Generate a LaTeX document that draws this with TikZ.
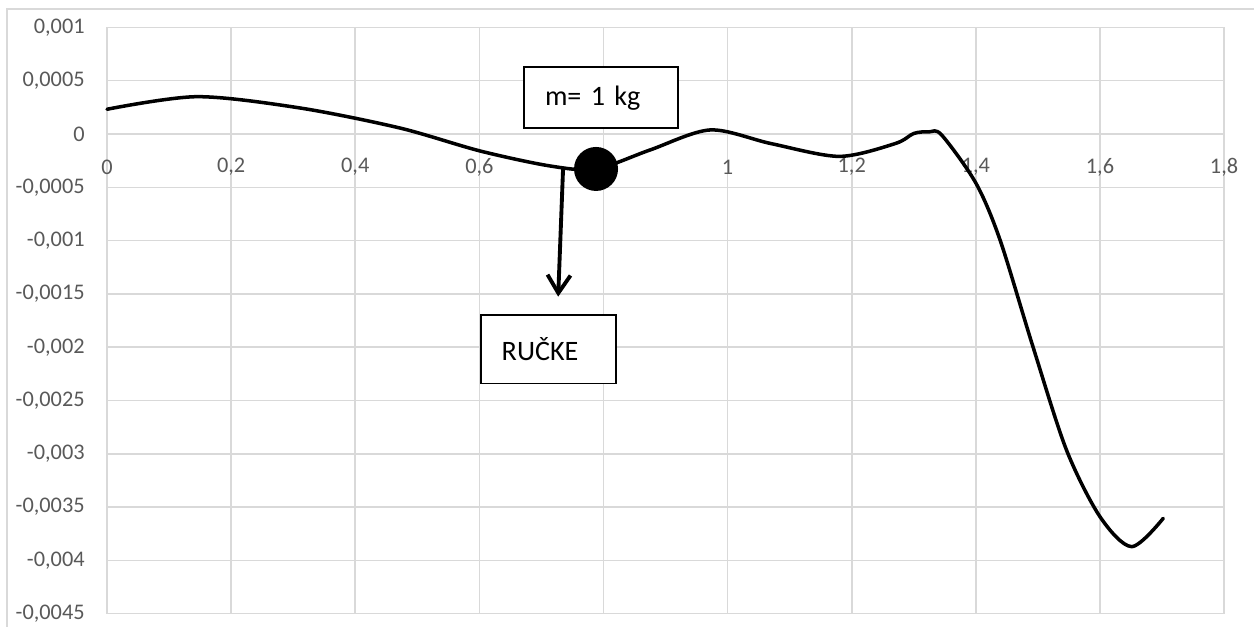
\documentclass[tikz,border=0pt]{standalone}
\usepackage{fontspec}
\setmainfont{Carlito}
\usepackage{tikz}
\usetikzlibrary{arrows.meta,positioning}
\definecolor{gridgray}{HTML}{D9D9D9}
\definecolor{labelgray}{HTML}{595959}

\begin{document}
\begin{tikzpicture}[x=12.412cm, y=2.132cm,
    gridline/.style={gridgray, line width=0.9pt},
    ticklabel/.style={labelgray, font=\fontsize{12.7}{15}\selectfont, inner sep=0pt},
    notebox/.style={draw, fill=white, line width=0.9pt, font=\fontsize{16}{19}\selectfont, inner xsep=0.42cm, align=left},
    force/.style={line width=2.2pt, -{Straight Barb[length=0.36cm, width=0.46cm]}}]
    \useasboundingbox (-2.14cm,-9.86cm) rectangle (22.94cm,2.68cm);
    % chart frame
    \draw[gridline] (23.5cm,2.5cm) -- (-2.0cm,2.5cm) -- (-2.0cm,-10cm);
    % vertical grid lines and x labels (0,8 sits under the mass)
    \foreach \i/\lab in {0/0, 1/{0,2}, 2/{0,4}, 3/{0,6}, 4/{0,8}, 5/1, 6/{1,2}, 7/{1,4}, 8/{1,6}, 9/{1,8}}
    {
        \draw[gridline] (0.2*\i,-4.5) -- (0.2*\i,1);
        \node[ticklabel] (xlab\i) at ([yshift=-0.66cm]0.2*\i,0) {\lab};
    }
    % horizontal grid lines and y labels (values in units of 0,001)
    \foreach \y/\lab [count=\n] in {1/{0,001}, 0.5/{0,0005}, 0/0, -0.5/{-0,0005}, -1/{-0,001}, -1.5/{-0,0015}, -2/{-0,002}, -2.5/{-0,0025}, -3/{-0,003}, -3.5/{-0,0035}, -4/{-0,004}, -4.5/{-0,0045}}
    {
        \draw[gridline] (0,\y) -- (1.8,\y);
        \node[ticklabel, anchor=east] (ylab\n) at ([xshift=-0.44cm]0,\y) {\lab};
    }
    % deflection curve
    \draw[line width=2pt, line join=round, line cap=round] plot[smooth, tension=0.5] coordinates {
        (0,0.232) (0.145,0.350) (0.311,0.244) (0.472,0.056) (0.601,-0.159)
        (0.714,-0.300) (0.788,-0.328) (0.875,-0.150) (0.972,0.038) (1.07,-0.09)
        (1.18,-0.21) (1.27,-0.09) (1.30,0.005) (1.325,0.02) (1.345,-0.01)
        (1.40,-0.46) (1.439,-0.994) (1.492,-1.995) (1.546,-2.964) (1.600,-3.590)
        (1.651,-3.871) (1.702,-3.605)};
    % load on the handles
    \coordinate (hook) at (0.735,-0.307);
    \coordinate (tip) at (0.727,-1.526);
    \draw[force] (hook) -- (tip);
    \node[circle, fill=black, minimum size=0.88cm, inner sep=0pt] (mass) at (0.788,-0.328) {};
    \node[notebox, text width=2.24cm, minimum height=1.22cm] (massbox) at (0.796,0.340) {m= 1 kg};
    \node[notebox, text width=1.86cm, minimum height=1.37cm] (handles) at (0.711,-2.019) {RUČKE};
\end{tikzpicture}
\end{document}
